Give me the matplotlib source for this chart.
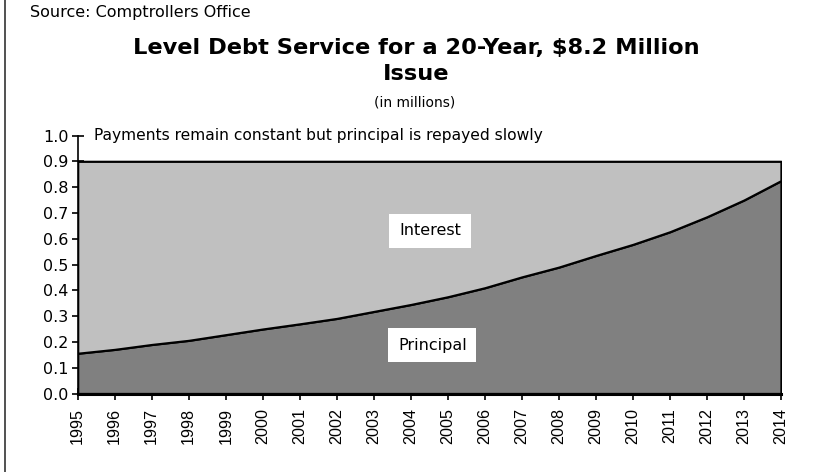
import matplotlib
matplotlib.use("Agg")
import matplotlib.pyplot as plt
from matplotlib.lines import Line2D

plt.rcParams['font.family'] = ['DejaVu Sans']

years = list(range(1995, 2015))
principal = [0.156, 0.171, 0.190, 0.206, 0.228, 0.250, 0.270, 0.291, 0.318, 0.345,
             0.375, 0.410, 0.452, 0.490, 0.535, 0.578, 0.627, 0.685, 0.750, 0.825]
total_payment = 0.9
interest = [total_payment - p for p in principal]
yticks = [0.0, 0.1, 0.2, 0.3, 0.4, 0.5, 0.6, 0.7, 0.8, 0.9, 1.0]

fig = plt.figure(figsize=(8.31, 4.72), dpi=100)
ax = fig.add_axes([0.0935, 0.1663, 0.8463, 0.5466])

ax.stackplot(years, principal, interest, colors=['#808080', '#c0c0c0'],
             edgecolor='black', linewidth=1.6)
ax.set_xlim(1995, 2014)
ax.set_ylim(0, 1.0)
ax.set_axisbelow(True)

ax.set_yticks(yticks)
ax.set_yticklabels([f"{v:.1f}" for v in yticks], fontsize=11.5)
ax.set_xticks(years)
ax.set_xticklabels([str(y) for y in years], rotation=90, fontsize=11.6,
                   family=['Liberation Sans', 'DejaVu Sans'])
ax.tick_params(axis='y', direction='inout', length=9, width=1.2, pad=2)
ax.tick_params(axis='x', direction='inout', length=9, width=1.2, pad=6)

for s in ['top', 'right']:
    ax.spines[s].set_visible(False)
ax.spines['left'].set_linewidth(1.2)
ax.spines['bottom'].set_linewidth(2.2)

ax.text(2004.52, 0.63, "Interest", fontsize=11.5, ha='center', va='center',
        bbox=dict(facecolor='white', edgecolor='none', pad=7))
ax.text(2004.58, 0.188, "Principal", fontsize=11.5, ha='center', va='center',
        bbox=dict(facecolor='white', edgecolor='none', pad=7))
ax.text(1995.45, 1.0, "Payments remain constant but principal is repayed slowly",
        fontsize=11.2, ha='left', va='center')

fig.text(30/831, 1 - 13/472, "Source: Comptrollers Office", fontsize=11.5,
         ha='left', va='center')
fig.text(416/831, 1 - 61/472, "Level Debt Service for a 20-Year, $8.2 Million\nIssue",
         fontsize=16.2, fontweight='bold', ha='center', va='center', linespacing=1.4)
fig.text(415/831, 1 - 103/472, "(in millions)", fontsize=10, ha='center', va='center')

fig.add_artist(Line2D([4.5/831, 4.5/831], [0, 1], color='#333333', linewidth=1.2,
                      transform=fig.transFigure))

fig.savefig("out.png", dpi=100)
